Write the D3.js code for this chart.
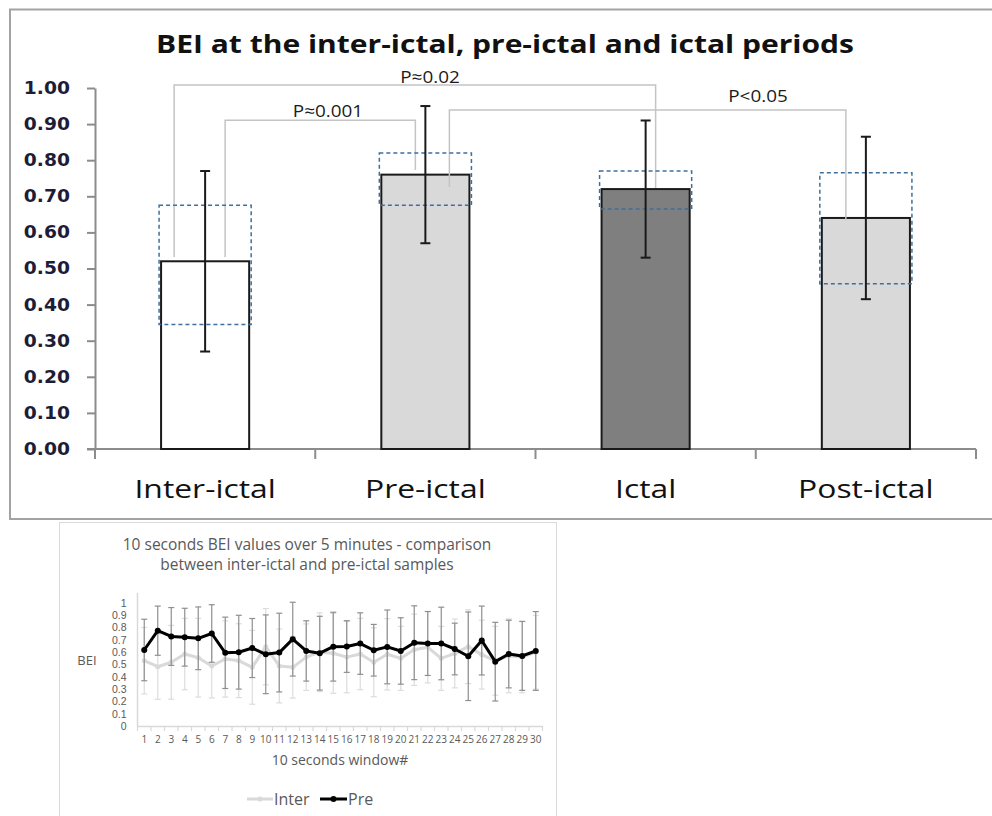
<!DOCTYPE html>
<html>
<head>
<meta charset="utf-8">
<script src="https://cdn.jsdelivr.net/npm/d3@7"></script>
<style>
  html, body { margin: 0; padding: 0; background: #fff; }
  svg { display: block; }
</style>
</head>
<body>
<svg id="fig" width="992" height="816"></svg>
<script>
// ---- Period summary (BEI mean, SD and confidence band per period) ----
const periods = ["Inter-ictal", "Pre-ictal", "Ictal", "Post-ictal"];
const periodMean = [0.52, 0.76, 0.72, 0.64];
const periodSD = [0.25, 0.19, 0.19, 0.225];
const bandLow = [0.345, 0.675, 0.665, 0.458];
const bandHigh = [0.675, 0.82, 0.77, 0.765];
const periodTicks = [0, 0.1, 0.2, 0.3, 0.4, 0.5, 0.6, 0.7, 0.8, 0.9, 1.0];
const comparisons = [
  { a: 0, b: 2, label: "P\u22480.02" },
  { a: 0, b: 1, label: "P\u22480.001" },
  { a: 1, b: 3, label: "P<0.05" }
];

// ---- 10-second windows over 5 minutes ----
const windows = [1, 2, 3, 4, 5, 6, 7, 8, 9, 10, 11, 12, 13, 14, 15,
                 16, 17, 18, 19, 20, 21, 22, 23, 24, 25, 26, 27, 28, 29, 30];
const interMean = [0.531, 0.482, 0.518, 0.585, 0.555, 0.488, 0.545, 0.531, 0.477, 0.645,
                   0.488, 0.477, 0.560, 0.600, 0.591, 0.560, 0.585, 0.518, 0.583, 0.550,
                   0.620, 0.640, 0.550, 0.590, 0.645, 0.580, 0.530, 0.570, 0.560, 0.600];
const interSD = [0.27, 0.265, 0.30, 0.29, 0.32, 0.26, 0.31, 0.30, 0.30, 0.31,
                 0.30, 0.25, 0.27, 0.32, 0.325, 0.29, 0.29, 0.28, 0.29, 0.26,
                 0.29, 0.29, 0.26, 0.28, 0.30, 0.28, 0.28, 0.30, 0.29, 0.30];
const preMean = [0.618, 0.775, 0.728, 0.722, 0.713, 0.752, 0.595, 0.600, 0.634, 0.583,
                 0.597, 0.706, 0.610, 0.592, 0.645, 0.646, 0.670, 0.616, 0.643, 0.610,
                 0.677, 0.671, 0.671, 0.626, 0.567, 0.695, 0.523, 0.585, 0.570, 0.610];
const preSD = [0.25, 0.20, 0.235, 0.235, 0.255, 0.234, 0.29, 0.30, 0.24, 0.32,
               0.32, 0.30, 0.245, 0.30, 0.28, 0.21, 0.25, 0.21, 0.30, 0.27,
               0.30, 0.26, 0.295, 0.21, 0.36, 0.28, 0.32, 0.275, 0.28, 0.32];
const windowTicks = [0, 0.1, 0.2, 0.3, 0.4, 0.5, 0.6, 0.7, 0.8, 0.9, 1];

const svg = d3.select("#fig");

// widen text horizontally by a factor (wide-set lettering of the upper panel)
function widen(sel, f) {
  sel.each(function () {
    const w = this.getComputedTextLength();
    d3.select(this).attr("textLength", w * f).attr("lengthAdjust", "spacingAndGlyphs");
  });
}

// =================== Upper panel: bar chart ===================
const upper = svg.append("g");
upper.append("rect")
  .attr("x", 10).attr("y", 9.5).attr("width", 1000).attr("height", 509.5)
  .attr("fill", "none").attr("stroke", "#a3a3a3").attr("stroke-width", 2);

const x1 = d3.scaleBand().domain(periods).range([95, 976]).paddingInner(0.6).paddingOuter(0.3);
const y1 = d3.scaleLinear().domain([0, 1]).range([449, 88]);
const cx = i => x1(periods[i]) + x1.bandwidth() / 2;

upper.append("text")
  .attr("x", 505).attr("y", 53)
  .attr("text-anchor", "middle")
  .attr("font-family", "Open Sans, sans-serif").attr("font-weight", 700)
  .attr("font-size", 25).attr("fill", "#111")
  .text("BEI at the inter-ictal, pre-ictal and ictal periods")
  .call(widen, 1.2);

// y axis
const yAx1 = upper.append("g").attr("transform", "translate(95,0)")
  .call(d3.axisLeft(y1).tickValues(periodTicks).tickFormat(d3.format(".2f")).tickSize(8).tickSizeOuter(0).tickPadding(17));
yAx1.select(".domain").attr("stroke", "#8c8c8c").attr("stroke-width", 2);
yAx1.selectAll(".tick line").attr("stroke", "#8c8c8c").attr("stroke-width", 2);
yAx1.selectAll(".tick text")
  .attr("font-family", "DejaVu Sans, sans-serif").attr("font-weight", 700)
  .attr("font-size", 17).attr("fill", "#1d1d38")
  .call(widen, 1.1);

// x axis line with boundary ticks
const xAxG = upper.append("g");
xAxG.append("line").attr("x1", 87).attr("x2", 976).attr("y1", 449).attr("y2", 449)
  .attr("stroke", "#8c8c8c").attr("stroke-width", 2);
const bounds = [95].concat(periods.map((p, i) => (cx(i) + (i < 3 ? cx(i + 1) : 2 * cx(i) - cx(i - 1))) / 2));
xAxG.selectAll("line.b").data(bounds).join("line").attr("class", "b")
  .attr("x1", d => d).attr("x2", d => d).attr("y1", 449).attr("y2", 459)
  .attr("stroke", "#8c8c8c").attr("stroke-width", 2);

// bars
const barFill = ["#ffffff", "#d9d9d9", "#7f7f7f", "#d9d9d9"];
upper.selectAll("rect.bar").data(periodMean).join("rect").attr("class", "bar")
  .attr("x", (d, i) => x1(periods[i])).attr("width", x1.bandwidth())
  .attr("y", d => y1(d)).attr("height", d => y1(0) - y1(d))
  .attr("fill", (d, i) => barFill[i]).attr("stroke", "#1a1a1a").attr("stroke-width", 2);

// category labels
upper.selectAll("text.cat").data(periods).join("text").attr("class", "cat")
  .attr("x", (d, i) => cx(i)).attr("y", 498)
  .attr("text-anchor", "middle")
  .attr("font-family", "Open Sans, sans-serif").attr("font-size", 26).attr("fill", "#111")
  .text(d => d)
  .call(widen, 1.225);

// comparison brackets
const brk = [
  { yTop: 1.008, dxA: -31, dxB: 10, endA: 0.532, endB: 0.723, lx: 430, ly: 83 },
  { yTop: 0.911, dxA: 20, dxB: -10, endA: 0.532, endB: 0.773, lx: 328, ly: 117 },
  { yTop: 0.939, dxA: 24, dxB: -20, endA: 0.726, endB: 0.634, lx: 758, ly: 102 }
];
comparisons.forEach((c, k) => {
  const b = brk[k];
  const xa = cx(c.a) + b.dxA, xb = cx(c.b) + b.dxB;
  upper.append("path")
    .attr("d", d3.line()([[xa, y1(b.endA)], [xa, y1(b.yTop)], [xb, y1(b.yTop)], [xb, y1(b.endB)]]))
    .attr("fill", "none").attr("stroke", "#c4c4c4").attr("stroke-width", 1.5);
  upper.append("text").attr("x", b.lx).attr("y", b.ly).attr("text-anchor", "middle")
    .attr("font-family", "Open Sans, sans-serif").attr("font-size", 17).attr("fill", "#1a1a1a")
    .text(c.label)
    .call(widen, 1.11);
});

// dashed confidence boxes
upper.selectAll("rect.ci").data(periods).join("rect").attr("class", "ci")
  .attr("x", (d, i) => x1(d) - 2).attr("width", x1.bandwidth() + 4)
  .attr("y", (d, i) => y1(bandHigh[i])).attr("height", (d, i) => y1(bandLow[i]) - y1(bandHigh[i]))
  .attr("fill", "none").attr("stroke", "#3f6f9f").attr("stroke-width", 1.5).attr("stroke-dasharray", "4,3");

// error bars
const eb = upper.selectAll("g.eb").data(periodMean).join("g").attr("class", "eb")
  .attr("stroke", "#1a1a1a").attr("stroke-width", 2);
eb.append("line").attr("x1", (d, i) => cx(i)).attr("x2", (d, i) => cx(i))
  .attr("y1", (d, i) => y1(d + periodSD[i])).attr("y2", (d, i) => y1(d - periodSD[i]));
eb.append("line").attr("x1", (d, i) => cx(i) - 5).attr("x2", (d, i) => cx(i) + 5)
  .attr("y1", (d, i) => y1(d + periodSD[i])).attr("y2", (d, i) => y1(d + periodSD[i]));
eb.append("line").attr("x1", (d, i) => cx(i) - 5).attr("x2", (d, i) => cx(i) + 5)
  .attr("y1", (d, i) => y1(d - periodSD[i])).attr("y2", (d, i) => y1(d - periodSD[i]));

// =================== Lower panel: line chart ===================
const lower = svg.append("g");
lower.append("rect").attr("x", 59.5).attr("y", 522.5).attr("width", 497).attr("height", 320)
  .attr("fill", "#fff").attr("stroke", "#d9d9d9").attr("stroke-width", 1);

const txt = "#595959";
lower.append("text").attr("x", 307).attr("y", 550).attr("text-anchor", "middle")
  .attr("font-family", "Open Sans, sans-serif").attr("font-size", 15.5).attr("fill", txt)
  .text("10 seconds BEI values over 5 minutes - comparison");
lower.append("text").attr("x", 307).attr("y", 570).attr("text-anchor", "middle")
  .attr("font-family", "Open Sans, sans-serif").attr("font-size", 15.5).attr("fill", txt)
  .text("between inter-ictal and pre-ictal samples");

const x2 = d3.scaleBand().domain(windows).range([137.5, 542.5]);
const y2 = d3.scaleLinear().domain([0, 1]).range([726, 603]);
const wx = w => x2(w) + x2.bandwidth() / 2;

// axes
lower.append("line").attr("x1", 137.5).attr("x2", 137.5).attr("y1", 593).attr("y2", 726)
  .attr("stroke", "#d9d9d9").attr("stroke-width", 1.5);
const xAx2 = lower.append("g").attr("transform", "translate(0,726)")
  .call(d3.axisBottom(x2).tickSize(0).tickPadding(10));
xAx2.select(".domain").attr("stroke", "#d9d9d9").attr("stroke-width", 1.5);
xAx2.selectAll(".tick text").attr("font-family", "Open Sans, sans-serif").attr("font-size", 10).attr("fill", txt);
lower.selectAll("line.wb").data(windows.concat([null])).join("line").attr("class", "wb")
  .attr("x1", (d, i) => 137.5 + i * x2.step()).attr("x2", (d, i) => 137.5 + i * x2.step())
  .attr("y1", 726).attr("y2", 731).attr("stroke", "#d9d9d9").attr("stroke-width", 1.2);

const yAx2 = lower.append("g").attr("transform", "translate(137.5,0)")
  .call(d3.axisLeft(y2).tickValues(windowTicks).tickFormat(d3.format("")).tickSize(0).tickPadding(11));
yAx2.select(".domain").remove();
yAx2.selectAll(".tick text").attr("font-family", "Liberation Sans, sans-serif").attr("font-size", 10.5).attr("fill", txt);

lower.append("text").attr("x", 87).attr("y", 665).attr("text-anchor", "middle")
  .attr("font-family", "Open Sans, sans-serif").attr("font-size", 13).attr("fill", txt).text("BEI");
lower.append("text").attr("x", 340).attr("y", 765).attr("text-anchor", "middle")
  .attr("font-family", "Open Sans, sans-serif").attr("font-size", 14).attr("fill", txt).text("10 seconds window#");

// series drawing
function errBars(means, sds, color, width) {
  const g = lower.append("g").attr("stroke", color).attr("stroke-width", width);
  windows.forEach((w, i) => {
    const hi = y2(means[i] + sds[i]), lo = y2(means[i] - sds[i]), x = wx(w);
    g.append("line").attr("x1", x).attr("x2", x).attr("y1", hi).attr("y2", lo);
    g.append("line").attr("x1", x - 3).attr("x2", x + 3).attr("y1", hi).attr("y2", hi);
    g.append("line").attr("x1", x - 3).attr("x2", x + 3).attr("y1", lo).attr("y2", lo);
  });
}
function series(means, color, width, r) {
  const pts = windows.map((w, i) => [wx(w), y2(means[i])]);
  lower.append("path").attr("d", d3.line()(pts))
    .attr("fill", "none").attr("stroke", color).attr("stroke-width", width).attr("stroke-linejoin", "round");
  lower.append("g").selectAll("circle").data(pts).join("circle")
    .attr("cx", d => d[0]).attr("cy", d => d[1]).attr("r", r).attr("fill", color);
}
errBars(interMean, interSD, "#dcdcdc", 1.2);
series(interMean, "#d9d9d9", 3, 2.5);
errBars(preMean, preSD, "#8f8f8f", 1.2);
series(preMean, "#000000", 3, 3);

// legend
const leg = lower.append("g");
leg.append("line").attr("x1", 247).attr("x2", 273).attr("y1", 799).attr("y2", 799)
  .attr("stroke", "#d9d9d9").attr("stroke-width", 3);
leg.append("circle").attr("cx", 260).attr("cy", 799).attr("r", 2.5).attr("fill", "#d9d9d9");
leg.append("text").attr("x", 274).attr("y", 805).attr("font-family", "Open Sans, sans-serif")
  .attr("font-size", 16).attr("fill", txt).text("Inter");
leg.append("line").attr("x1", 320).attr("x2", 347).attr("y1", 799).attr("y2", 799)
  .attr("stroke", "#000").attr("stroke-width", 3);
leg.append("circle").attr("cx", 333.5).attr("cy", 799).attr("r", 3).attr("fill", "#000");
leg.append("text").attr("x", 348).attr("y", 805).attr("font-family", "Open Sans, sans-serif")
  .attr("font-size", 16).attr("fill", txt).text("Pre");
</script>
</body>
</html>
